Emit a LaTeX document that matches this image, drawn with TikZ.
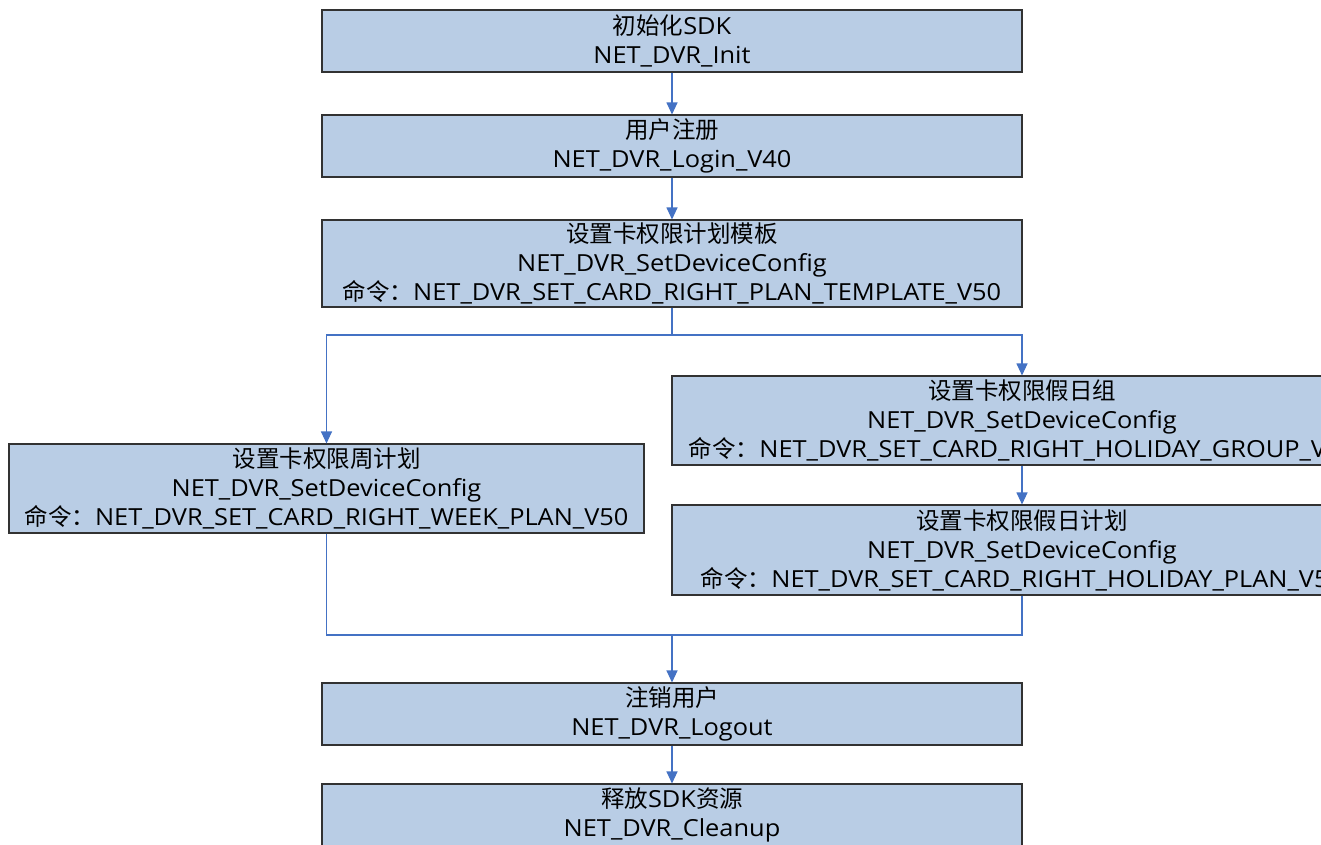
\documentclass[tikz,border=0pt]{standalone}
\usepackage{fontspec}
\setmainfont{Open Sans}[FakeStretch=1.08]
\newfontfamily\cjk{Noto Sans CJK SC}
\usetikzlibrary{arrows.meta}
\definecolor{boxfill}{RGB}{185,205,229}
\definecolor{boxline}{RGB}{50,50,50}
\definecolor{linkblue}{RGB}{68,114,196}
\tikzset{
  stepbox/.style={draw=boxline, line width=1.1pt, fill=boxfill, inner sep=0pt,
    align=center, font=\fontsize{23.5}{29}\selectfont, text=black},
  link/.style={draw=linkblue, line width=1.1pt},
  linkarrow/.style={link, -{Triangle[length=12pt,width=11pt]}}
}
\begin{document}
\begin{tikzpicture}[x=1pt,y=-1pt]
\useasboundingbox (0,0) rectangle (1321,844);
\clip (0,0) rectangle (1321,844);
\fill[white] (0,0) rectangle (1321,844);

% main column
\node[stepbox, minimum width=700pt, minimum height=62pt] (init) at (672,41)
  {{\cjk 初始化}SDK\\NET\_DVR\_Init};
\node[stepbox, minimum width=700pt, minimum height=62pt] (login) at (672,146)
  {{\cjk 用户注册}\\NET\_DVR\_Login\_V40};
\node[stepbox, minimum width=700pt, minimum height=87pt] (tpl) at (672,263.5)
  {{\cjk 设置卡权限计划模板}\\NET\_DVR\_SetDeviceConfig\\{\cjk 命令：}NET\_DVR\_SET\_CARD\_RIGHT\_PLAN\_TEMPLATE\_V50};

% left branch
\node[stepbox, minimum width=635pt, minimum height=89pt] (week) at (326.5,488.5)
  {{\cjk 设置卡权限周计划}\\NET\_DVR\_SetDeviceConfig\\{\cjk 命令：}NET\_DVR\_SET\_CARD\_RIGHT\_WEEK\_PLAN\_V50};

% right branch
\node[stepbox, minimum width=700pt, minimum height=89pt] (hgroup) at (1022,420.5)
  {{\cjk 设置卡权限假日组}\\NET\_DVR\_SetDeviceConfig\\{\cjk 命令：}NET\_DVR\_SET\_CARD\_RIGHT\_HOLIDAY\_GROUP\_V50};
\node[stepbox, minimum width=700pt, minimum height=90pt] (hplan) at (1022,550)
  {{\cjk 设置卡权限假日计划}\\NET\_DVR\_SetDeviceConfig\\{\cjk 命令：}NET\_DVR\_SET\_CARD\_RIGHT\_HOLIDAY\_PLAN\_V50};

% closing steps
\node[stepbox, minimum width=700pt, minimum height=62pt] (logout) at (672,714)
  {{\cjk 注销用户}\\NET\_DVR\_Logout};
\node[stepbox, minimum width=700pt, minimum height=62pt] (cleanup) at (672,815)
  {{\cjk 释放}SDK{\cjk 资源}\\NET\_DVR\_Cleanup};

% connectors
\coordinate (split) at (672,335);
\coordinate (merge) at (672,635);
\draw[linkarrow] (init) -- (login);
\draw[linkarrow] (login) -- (tpl);
\draw[link] (tpl.south) -- (split);
\draw[linkarrow] (split) -| (week.north);
\draw[linkarrow] (split) -| (hgroup.north);
\draw[linkarrow] (hgroup) -- (hplan);
\draw[link] (week.south) |- (merge);
\draw[link] (hplan.south) |- (merge);
\draw[linkarrow] (merge) -- (logout.north);
\draw[linkarrow] (logout) -- (cleanup);
\end{tikzpicture}
\end{document}
